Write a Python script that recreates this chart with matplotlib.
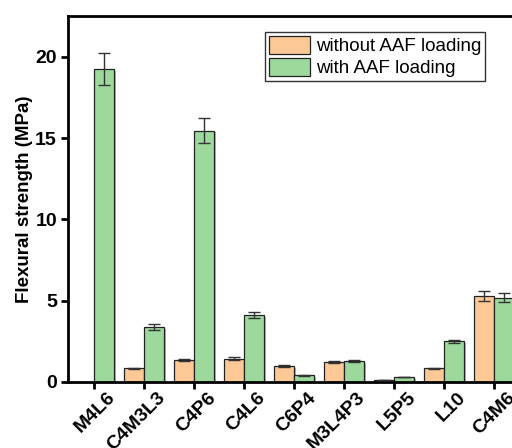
import matplotlib
matplotlib.use("Agg")
import matplotlib.pyplot as plt
import matplotlib.patheffects as pe
import matplotlib.transforms as mtransforms
from matplotlib.patches import Patch
import numpy as np

plt.rcParams['font.family'] = ['Liberation Sans', 'DejaVu Sans']

categories = ["M4L6", "C4M3L3", "C4P6", "C4L6", "C6P4", "M3L4P3", "L5P5", "L10", "C4M6"]
without_vals = [0.0, 0.84, 1.35, 1.44, 0.98, 1.23, 0.10, 0.84, 5.29]
without_err = [0.0, 0.04, 0.05, 0.07, 0.04, 0.04, 0.0, 0.04, 0.28]
with_vals = [19.22, 3.36, 15.45, 4.12, 0.41, 1.29, 0.31, 2.50, 5.19]
with_err = [0.98, 0.18, 0.78, 0.20, 0.02, 0.05, 0.02, 0.10, 0.27]
series_labels = ["without AAF loading", "with AAF loading"]

c_orange = "#FCC896"
c_green = "#9DD89D"

fig = plt.figure(figsize=(5.12, 4.48), dpi=100)
ax = fig.add_axes([68/512, 1-382/448, 452/512, (382-16)/448])

x = np.arange(len(categories))
w = 0.4
shadow = [pe.SimplePatchShadow(offset=(1.2, -1.2), shadow_rgbFace='#888888', alpha=0.6), pe.Normal()]
b1 = ax.bar(x - w/2, without_vals, w, color=c_orange, edgecolor='#222222', linewidth=0.9, zorder=2)
b2 = ax.bar(x + w/2, with_vals, w, color=c_green, edgecolor='#222222', linewidth=0.9, zorder=2)
for b in list(b1) + list(b2):
    if b.get_height() > 0:
        b.set_path_effects(shadow)
    else:
        b.set_visible(False)

mask1 = np.array(without_vals) > 0
ax.errorbar((x - w/2)[mask1], np.array(without_vals)[mask1], yerr=np.array(without_err)[mask1],
            fmt='none', ecolor='#333333', elinewidth=1.0, capsize=4, capthick=1.0, zorder=3)
ax.errorbar(x + w/2, with_vals, yerr=with_err, fmt='none', ecolor='#333333',
            elinewidth=1.0, capsize=4, capthick=1.0, zorder=3)

ax.set_xlim(-0.52, 8.52)
ax.set_ylim(0, 22.5)
ax.set_yticks([0, 5, 10, 15, 20])
ax.set_xticks(x)
ax.set_xticklabels([])
lab_tr = ax.get_xaxis_transform() + mtransforms.ScaledTranslation(13/100, -7/100, fig.dpi_scale_trans)
for i, c in enumerate(categories):
    ax.text(x[i], 0, c, transform=lab_tr, rotation=45, ha='right', va='top',
            rotation_mode='anchor', fontsize=14, fontweight='bold', clip_on=False)
for lab in ax.get_yticklabels():
    lab.set_fontsize(14)
    lab.set_fontweight('bold')
ax.set_ylabel("Flexural strength (MPa)", fontsize=13.5, fontweight='bold', labelpad=1.5)

for s in ax.spines.values():
    s.set_linewidth(2.0)
ax.tick_params(axis='both', direction='out', width=2.0, length=5, pad=3)

handles = [Patch(facecolor=c_orange, edgecolor='#222222', linewidth=0.9),
           Patch(facecolor=c_green, edgecolor='#222222', linewidth=0.9)]
leg = ax.legend(handles, series_labels, loc='upper left', bbox_to_anchor=(265/512, 1-32/448),
                bbox_transform=fig.transFigure,
                borderaxespad=0, fontsize=13.5, frameon=True, fancybox=False, edgecolor='black',
                handlelength=2.2, handleheight=1.1, labelspacing=0.15, borderpad=0.2,
                handletextpad=0.3)
leg.get_frame().set_linewidth(1.0)

fig.savefig("out.png", dpi=100)
